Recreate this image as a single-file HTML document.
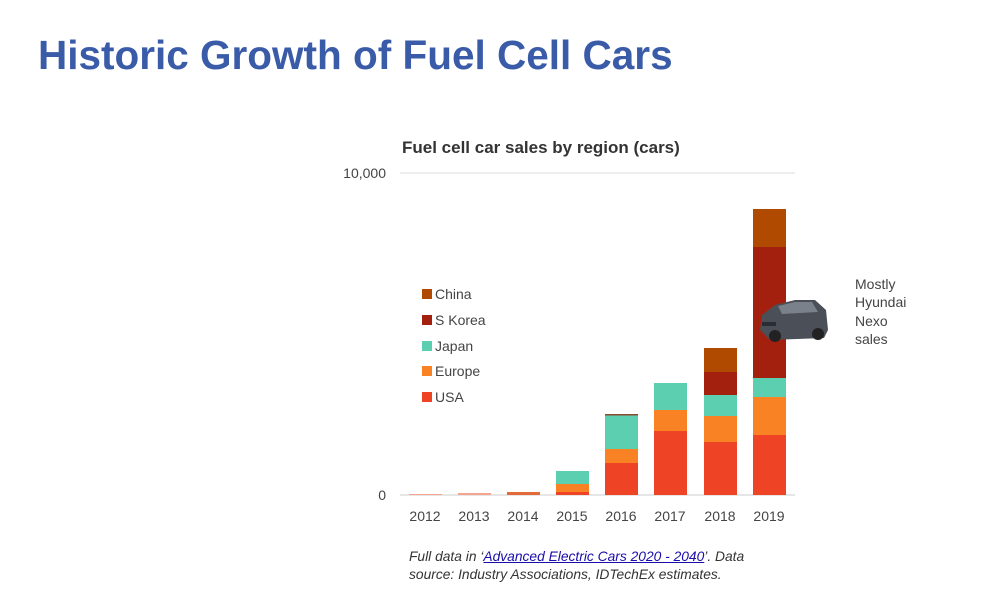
<!DOCTYPE html>
<html><head><style>
body{margin:0;width:1000px;height:601px;background:#fff;font-family:"Liberation Sans",Arial,sans-serif;position:relative;overflow:hidden}
.a{position:absolute}
</style></head><body>
<div class="a" style="left:38px;top:32px;font-size:40.5px;font-weight:bold;color:#3a5ba8">Historic Growth of Fuel Cell Cars</div>
<div class="a" style="left:402px;top:138px;font-size:17px;font-weight:bold;color:#333">Fuel cell car sales by region (cars)</div>
<svg class="a" style="left:0;top:0" width="1000" height="601">
<line x1="400" y1="173" x2="795" y2="173" stroke="#ddd"/>
<line x1="400" y1="495" x2="795" y2="495" stroke="#ccc"/>
<g font-size="14" fill="#444" font-family="Liberation Sans,Arial,sans-serif">
<text x="386" y="178" text-anchor="end">10,000</text>
<text x="386" y="500" text-anchor="end">0</text>
<text x="425" y="521" text-anchor="middle">2012</text>
<text x="474" y="521" text-anchor="middle">2013</text>
<text x="523" y="521" text-anchor="middle">2014</text>
<text x="572" y="521" text-anchor="middle">2015</text>
<text x="621" y="521" text-anchor="middle">2016</text>
<text x="670" y="521" text-anchor="middle">2017</text>
<text x="720" y="521" text-anchor="middle">2018</text>
<text x="769" y="521" text-anchor="middle">2019</text>
</g>
<rect x="409" y="494" width="33" height="1" fill="#f4a48f"/>
<rect x="458" y="493" width="33" height="2" fill="#f4a48f"/>
<rect x="507" y="492" width="33" height="3" fill="#e46a3a"/>
<rect x="556" y="492" width="33" height="3" fill="#ee4325"/>
<rect x="556" y="484" width="33" height="8" fill="#f98324"/>
<rect x="556" y="471" width="33" height="13" fill="#5ccfb0"/>
<rect x="605" y="463" width="33" height="32" fill="#ee4325"/>
<rect x="605" y="449" width="33" height="14" fill="#f98324"/>
<rect x="605" y="415" width="33" height="34" fill="#5ccfb0"/>
<rect x="605" y="414" width="33" height="1.5" fill="#8a4a30"/>
<rect x="654" y="431" width="33" height="64" fill="#ee4325"/>
<rect x="654" y="410" width="33" height="21" fill="#f98324"/>
<rect x="654" y="383" width="33" height="27" fill="#5ccfb0"/>
<rect x="704" y="442" width="33" height="53" fill="#ee4325"/>
<rect x="704" y="416" width="33" height="26" fill="#f98324"/>
<rect x="704" y="395" width="33" height="21" fill="#5ccfb0"/>
<rect x="704" y="372" width="33" height="23" fill="#a3200f"/>
<rect x="704" y="348" width="33" height="24" fill="#b04a00"/>
<rect x="753" y="435" width="33" height="60" fill="#ee4325"/>
<rect x="753" y="397" width="33" height="38" fill="#f98324"/>
<rect x="753" y="378" width="33" height="19" fill="#5ccfb0"/>
<rect x="753" y="247" width="33" height="131" fill="#a3200f"/>
<rect x="753" y="209" width="33" height="38" fill="#b04a00"/>
<g>
<path d="M760 330 L762 315 L775 305 L795 300 L815 300 L826 310 L828 330 L824 338 L770 340 Z" fill="#4a4f58"/>
<path d="M778 306 L795 302 L812 302 L818 312 L782 314 Z" fill="#7b818a"/>
<circle cx="775" cy="336" r="6" fill="#222"/><circle cx="818" cy="334" r="6" fill="#222"/>
<rect x="762" y="322" width="14" height="4" fill="#2a2d33"/>
</g>
<g font-size="14" fill="#444" font-family="Liberation Sans,Arial,sans-serif">
<rect x="422" y="289" width="10" height="10" fill="#b04a00"/><text x="435" y="299">China</text>
<rect x="422" y="315" width="10" height="10" fill="#a3200f"/><text x="435" y="325">S Korea</text>
<rect x="422" y="341" width="10" height="10" fill="#5ccfb0"/><text x="435" y="351">Japan</text>
<rect x="422" y="366" width="10" height="10" fill="#f98324"/><text x="435" y="376">Europe</text>
<rect x="422" y="392" width="10" height="10" fill="#ee4325"/><text x="435" y="402">USA</text>
<text x="855" y="289">Mostly</text>
<text x="855" y="307">Hyundai</text>
<text x="855" y="326">Nexo</text>
<text x="855" y="344">sales</text>
</g>
</svg>
<div class="a" style="left:409px;top:548px;font-size:13.8px;font-style:italic;color:#333;line-height:18px;width:372px">Full data in ‘<span style="color:#1a0dab;text-decoration:underline">Advanced Electric Cars 2020 - 2040</span>’. Data source: Industry Associations, IDTechEx estimates.</div>
</body></html>
